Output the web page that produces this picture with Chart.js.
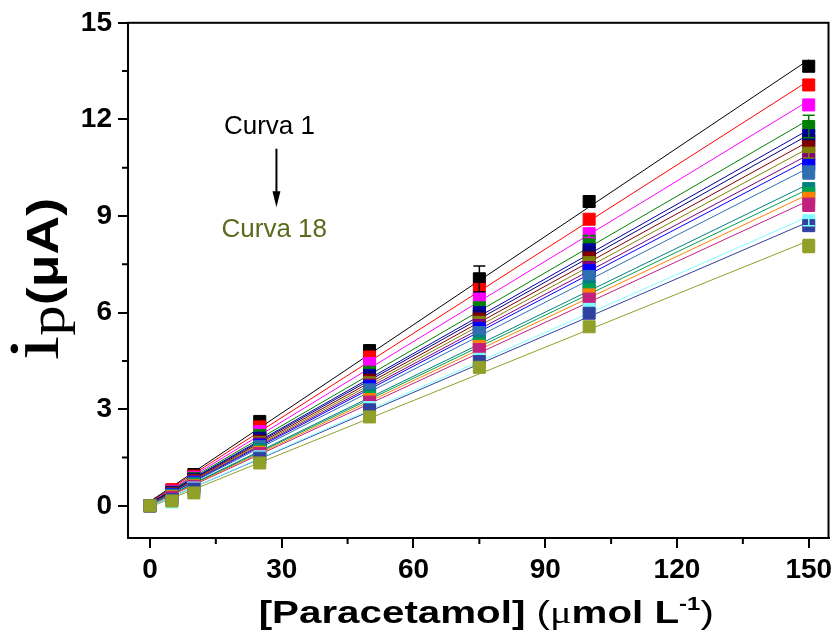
<!DOCTYPE html>
<html>
<head>
<meta charset="utf-8">
<script src="https://cdn.jsdelivr.net/npm/chart.js@4.4.0/dist/chart.umd.min.js"></script>
<style>
  body { margin: 0; background: #fff; }
  canvas { display: block; }
</style>
</head>
<body>
<canvas id="chart" width="838" height="639"></canvas>
<script>
// paracetamol concentrations (umol/L)
const xConc = [0, 5, 10, 25, 50, 75, 100, 150];

// peak currents (uA), curve 1 .. curve 18
const curva1  = [0, 0.48, 0.97, 2.62, 4.82, 7.05, 9.45, 13.65];
const curva2  = [0, 0.50, 0.92, 2.45, 4.62, 6.72, 8.90, 13.07];
const curva3  = [0, 0.45, 0.88, 2.30, 4.42, 6.45, 8.45, 12.45];
const curva4  = [0, 0.42, 0.85, 2.18, 4.15, 6.15, 8.22, 11.78];
const curva5  = [0, 0.40, 0.82, 2.10, 4.05, 6.00, 7.95, 11.50];
const curva6  = [0, 0.40, 0.80, 2.05, 3.98, 5.90, 7.85, 11.35];
const curva7  = [0, 0.38, 0.78, 2.00, 3.90, 5.80, 7.70, 11.15];
const curva8  = [0, 0.36, 0.76, 1.96, 3.82, 5.70, 7.55, 10.95];
const curva9  = [0, 0.36, 0.75, 1.92, 3.75, 5.60, 7.40, 10.75];
const curva10 = [0, 0.35, 0.72, 1.88, 3.70, 5.50, 7.30, 10.60];
const curva11 = [0, 0.33, 0.70, 1.84, 3.60, 5.38, 7.12, 10.35];
const curva12 = [0, 0.30, 0.66, 1.74, 3.42, 5.10, 6.80, 9.85];
const curva13 = [0, 0.30, 0.65, 1.70, 3.36, 5.02, 6.70, 9.70];
const curva14 = [0, 0.28, 0.62, 1.66, 3.30, 4.95, 6.55, 9.55];
const curva15 = [0, 0.26, 0.60, 1.62, 3.22, 4.85, 6.42, 9.35];
const curva16 = [0, 0.12, 0.55, 1.52, 3.05, 4.55, 6.10, 8.85];
const curva17 = [0, 0.20, 0.52, 1.48, 2.98, 4.48, 5.98, 8.70];
const curva18 = [0, 0.15, 0.40, 1.33, 2.76, 4.30, 5.56, 8.07];

const curves = [curva1, curva2, curva3, curva4, curva5, curva6, curva7, curva8, curva9,
  curva10, curva11, curva12, curva13, curva14, curva15, curva16, curva17, curva18];

const curveColors = ['#000000', '#ff0000', '#ff00ff', '#008000', '#0000a0', '#000080',
  '#800000', '#808000', '#800080', '#0000ff', '#2f6fb0', '#008080',
  '#00a050', '#ff8000', '#c0207f', '#80ffff', '#3040a0', '#90a028'];

// visible error bars: [curve index, point index, +/- uA]
const errorBars = [[0, 5, 0.4], [0, 6, 0.15], [0, 7, 0.15], [1, 7, 0.15], [2, 6, 0.12],
  [3, 7, 0.35], [7, 7, 0.15], [10, 7, 0.2], [14, 7, 0.2], [15, 7, 0.15], [17, 7, 0.2]];

const xTicks = [0, 30, 60, 90, 120, 150];
const xMinor = [15, 45, 75, 105, 135];
const yTicks = [0, 3, 6, 9, 12, 15];
const yMinor = [1.5, 4.5, 7.5, 10.5, 13.5];

// annotation text, in data units
const notes = [
  { text: 'Curva 1', x: 27.2, y: 11.76, color: '#000000' },
  { text: 'Curva 18', x: 28.3, y: 8.58, color: '#5a6b1e' }
];
const arrow = { x: 28.8, from: 11.09, to: 9.27 };

Chart.defaults.font.family = '"Liberation Sans", Arial, sans-serif';
Chart.defaults.color = '#000';

function linFit(xs, ys) {
  const n = xs.length;
  const mx = xs.reduce((a, b) => a + b, 0) / n;
  const my = ys.reduce((a, b) => a + b, 0) / n;
  let sxy = 0, sxx = 0;
  xs.forEach((x, i) => { sxy += (x - mx) * (ys[i] - my); sxx += (x - mx) * (x - mx); });
  const m = sxy / sxx;
  return { m, b: my - m * mx };
}

const datasets = [];
curves.forEach((ys, i) => {
  const f = linFit(xConc, ys);
  const x0 = xConc[0], x1 = xConc[xConc.length - 1];
  datasets.push({
    label: 'fit ' + (i + 1),
    data: [{ x: x0, y: f.m * x0 + f.b }, { x: x1, y: f.m * x1 + f.b }],
    showLine: true,
    borderColor: curveColors[i],
    borderWidth: 1,
    pointRadius: 0,
    order: 100
  });
});
curves.forEach((ys, i) => {
  datasets.push({
    label: 'Curva ' + (i + 1),
    data: xConc.map((x, j) => ({ x, y: ys[j] })),
    showLine: false,
    pointStyle: 'rect',
    pointRadius: 8.5,
    pointBorderWidth: 1,
    backgroundColor: curveColors[i],
    borderColor: curveColors[i],
    order: 17 - i
  });
});

function drawRuns(ctx, runs, sx) {
  let w = 0;
  runs.forEach(r => { ctx.font = r.f; w += ctx.measureText(r.t).width; });
  ctx.save();
  ctx.scale(sx, 1);
  let x = -w / 2;
  runs.forEach(r => {
    ctx.font = r.f;
    ctx.fillText(r.t, x, r.dy || 0);
    x += ctx.measureText(r.t).width;
  });
  ctx.restore();
}

const extras = {
  id: 'extras',
  afterDatasetsDraw(chart) {
    const { ctx, scales: { x, y } } = chart;
    ctx.save();
    ctx.lineWidth = 1.5;
    errorBars.forEach(([c, p, e]) => {
      const px = x.getPixelForValue(xConc[p]);
      const top = y.getPixelForValue(curves[c][p] + e);
      const bot = y.getPixelForValue(curves[c][p] - e);
      ctx.strokeStyle = curveColors[c];
      ctx.beginPath();
      ctx.moveTo(px, top); ctx.lineTo(px, bot);
      ctx.moveTo(px - 6, top); ctx.lineTo(px + 6, top);
      ctx.moveTo(px - 6, bot); ctx.lineTo(px + 6, bot);
      ctx.stroke();
    });
    ctx.restore();
  },
  afterDraw(chart) {
    const { ctx, chartArea: a, scales: { x, y } } = chart;
    ctx.save();
    // frame
    ctx.strokeStyle = '#000';
    ctx.lineWidth = 2;
    ctx.strokeRect(a.left, a.top, a.right - a.left, a.bottom - a.top);
    // minor ticks
    ctx.beginPath();
    xMinor.forEach(v => { const p = x.getPixelForValue(v); ctx.moveTo(p, a.bottom); ctx.lineTo(p, a.bottom + 6); });
    yMinor.forEach(v => { const p = y.getPixelForValue(v); ctx.moveTo(a.left, p); ctx.lineTo(a.left - 6, p); });
    ctx.stroke();

    // notes and arrow
    ctx.textAlign = 'center';
    ctx.textBaseline = 'middle';
    ctx.font = '26px "Liberation Sans", Arial, sans-serif';
    notes.forEach(n => {
      ctx.fillStyle = n.color;
      ctx.fillText(n.text, x.getPixelForValue(n.x), y.getPixelForValue(n.y));
    });
    const ax = x.getPixelForValue(arrow.x);
    const ay0 = y.getPixelForValue(arrow.from), ay1 = y.getPixelForValue(arrow.to);
    ctx.strokeStyle = '#000';
    ctx.fillStyle = '#000';
    ctx.lineWidth = 2;
    ctx.beginPath(); ctx.moveTo(ax, ay0); ctx.lineTo(ax, ay1 - 12); ctx.stroke();
    ctx.beginPath(); ctx.moveTo(ax - 4, ay1 - 16); ctx.lineTo(ax + 4, ay1 - 16); ctx.lineTo(ax, ay1); ctx.closePath(); ctx.fill();

    // axis titles
    ctx.fillStyle = '#000';
    ctx.textAlign = 'left';
    ctx.textBaseline = 'alphabetic';
    ctx.save();
    ctx.translate((a.left + a.right) / 2 + 8, 623);
    drawRuns(ctx, [
      { t: '[Paracetamol] ', f: 'bold 32px "Liberation Sans"' },
      { t: '(', f: '32px "Liberation Sans"' },
      { t: '\u03bc', f: '32px "Liberation Serif"' },
      { t: 'mol L', f: 'bold 32px "Liberation Sans"' },
      { t: '-1', f: 'bold 19px "Liberation Sans"', dy: -13 },
      { t: ')', f: '32px "Liberation Sans"' }
    ], 1.26);
    ctx.restore();
    ctx.save();
    ctx.translate(58, 279);
    ctx.rotate(-Math.PI / 2);
    drawRuns(ctx, [
      { t: 'i', f: '72px "Liberation Serif"' },
      { t: 'p', f: '50px "Liberation Serif"', dy: 6 },
      { t: '(', f: 'bold 44px "Liberation Sans"' },
      { t: '\u03bc', f: 'bold 44px "Liberation Sans"' },
      { t: 'A', f: 'bold 44px "Liberation Sans"' },
      { t: ')', f: 'bold 44px "Liberation Sans"' }
    ], 1.22);
    ctx.restore();
    ctx.restore();
  }
};

const tickFont = size => ({ size, weight: 'bold', family: '"Liberation Sans", Arial, sans-serif' });

new Chart(document.getElementById('chart'), {
  type: 'scatter',
  data: { datasets },
  options: {
    responsive: false,
    animation: false,
    layout: { padding: { top: 22, right: 6, left: 0, bottom: 0 } },
    plugins: { legend: { display: false }, tooltip: { enabled: false } },
    scales: {
      x: {
        type: 'linear', min: -5, max: 154.5,
        afterBuildTicks: s => { s.ticks = xTicks.map(v => ({ value: v })); },
        afterFit: s => { s.height = 101; },
        ticks: { font: tickFont(28), color: '#000', padding: 5, maxRotation: 0 },
        grid: { drawOnChartArea: false, tickLength: 10, color: '#000', lineWidth: 2 },
        border: { color: '#000', width: 2 }
      },
      y: {
        type: 'linear', min: -1, max: 15,
        afterBuildTicks: s => { s.ticks = yTicks.map(v => ({ value: v })); },
        afterFit: s => { s.width = 128; },
        ticks: { font: tickFont(28), color: '#000', padding: 6 },
        grid: { drawOnChartArea: false, tickLength: 10, color: '#000', lineWidth: 2 },
        border: { color: '#000', width: 2 }
      }
    }
  },
  plugins: [extras]
});
</script>
</body>
</html>
